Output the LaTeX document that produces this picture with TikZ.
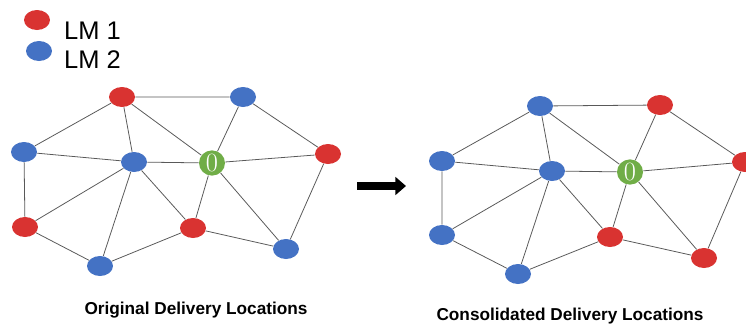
\documentclass[tikz,border=0pt]{standalone}
\usepackage{fontspec}
\setmainfont{Liberation Sans}
\newfontfamily\digitfont{Latin Modern Roman}
\usetikzlibrary{arrows.meta,shapes.geometric}
\definecolor{lmred}{RGB}{217,51,49}
\definecolor{lmblue}{RGB}{68,114,196}
\definecolor{depotgreen}{RGB}{112,173,71}

\begin{document}
\begin{tikzpicture}[
  x=0.02cm, y=-0.02cm,
  loc/.style={ellipse, minimum width=0.52cm, minimum height=0.4cm, inner sep=0pt},
  red loc/.style={loc, fill=lmred},
  blue loc/.style={loc, fill=lmblue},
  depot/.style={loc, fill=depotgreen, text=white, font=\digitfont\fontsize{15}{15}\selectfont},
  link/.style={draw=black!65, line width=0.45pt},
  caption/.style={font=\bfseries\fontsize{9.8}{12}\selectfont}
]
\useasboundingbox (0,0) rectangle (746,325);

% legend
\node[red loc] (lmA) at (37, 20) {};
\node[blue loc] (lmB) at (39, 51) {};
\node[anchor=west, font=\fontsize{14.5}{16}\selectfont] (lmAtxt) at (58, 31) {LM 1};
\node[anchor=west, font=\fontsize{14.5}{16}\selectfont] (lmBtxt) at (58, 60) {LM 2};

% original delivery locations
\node[red loc] (oA) at (122, 97) {};
\node[blue loc] (oB) at (243, 97) {};
\node[blue loc] (oC) at (24, 152) {};
\node[blue loc] (oD) at (134, 162) {};
\node[depot] (oO) at (212, 163) {0};
\node[red loc] (oE) at (328, 154) {};
\node[red loc] (oF) at (25, 227) {};
\node[red loc] (oG) at (193, 228) {};
\node[blue loc] (oH) at (100, 266) {};
\node[blue loc] (oI) at (286, 249) {};

\draw[link] (oA) -- (oB) (oA) -- (oC) (oA) -- (oD) (oA) -- (oO);
\draw[link] (oB) -- (oO) (oB) -- (oE);
\draw[link] (oC) -- (oD) (oC) -- (oF);
\draw[link] (oD) -- (oO) (oD) -- (oF) (oD) -- (oH) (oD) -- (oG);
\draw[link] (oO) -- (oE) (oO) -- (oG) (oO) -- (oI);
\draw[link] (oE) -- (oI) (oF) -- (oH) (oH) -- (oG) (oG) -- (oI);

\node[caption] (oCap) at (196, 310) {Original Delivery Locations};

% arrow
\coordinate (arrS) at (357, 186);
\coordinate (arrE) at (406, 186);
\draw[line width=4.5pt, -{Triangle[length=6pt, width=10pt]}] (arrS) -- (arrE);

% consolidated delivery locations
\node[blue loc] (cA) at (540, 106) {};
\node[red loc] (cB) at (660, 105) {};
\node[blue loc] (cC) at (442, 161) {};
\node[blue loc] (cD) at (552, 171) {};
\node[depot] (cO) at (630, 172) {0};
\node[red loc] (cE) at (745, 162) {};
\node[blue loc] (cF) at (442, 235) {};
\node[red loc] (cG) at (610, 237) {};
\node[blue loc] (cH) at (518, 274) {};
\node[red loc] (cI) at (704, 258) {};

\draw[link] (cA) -- (cB) (cA) -- (cC) (cA) -- (cD) (cA) -- (cO);
\draw[link] (cB) -- (cO) (cB) -- (cE);
\draw[link] (cC) -- (cD) (cC) -- (cF);
\draw[link] (cD) -- (cO) (cD) -- (cF) (cD) -- (cH) (cD) -- (cG);
\draw[link] (cO) -- (cE) (cO) -- (cG) (cO) -- (cI);
\draw[link] (cE) -- (cI) (cF) -- (cH) (cH) -- (cG) (cG) -- (cI);

\node[caption] (cCap) at (570, 316) {Consolidated Delivery Locations};
\end{tikzpicture}
\end{document}
